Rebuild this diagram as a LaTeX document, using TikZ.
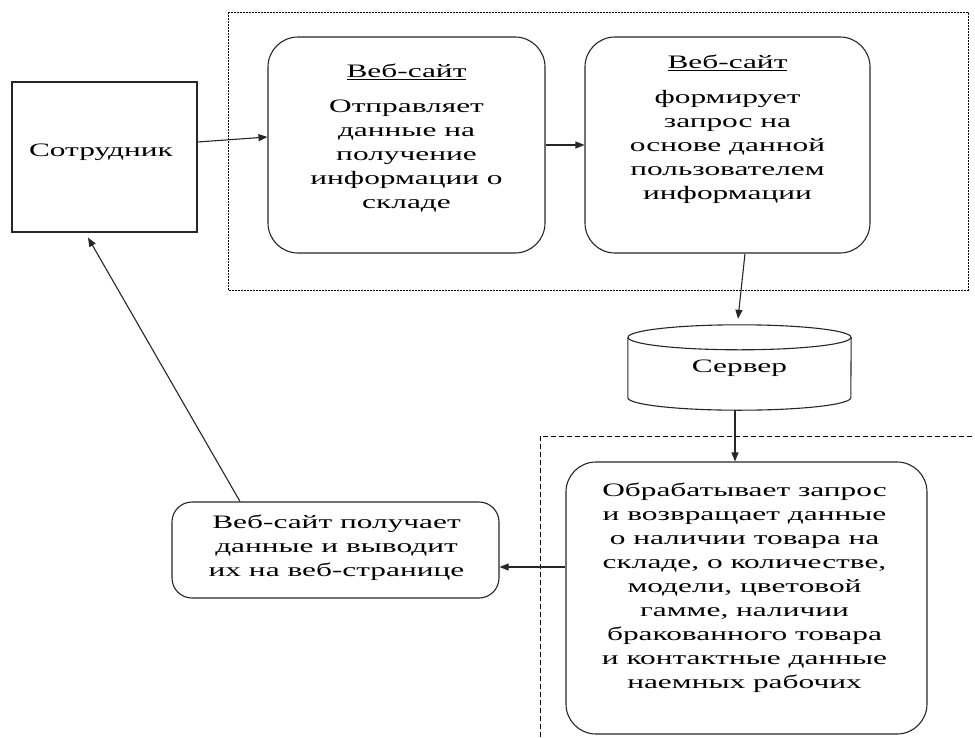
\documentclass[tikz,border=0pt]{standalone}
\usepackage{fontspec}
\usepackage{graphicx}
\setmainfont{Liberation Serif}
\usetikzlibrary{arrows.meta,calc}
\newcommand\widetext[1]{\scalebox{1.65}[1]{\begin{tabular}{@{}c@{}}#1\end{tabular}}}
\begin{document}
\begin{tikzpicture}[x=1pt,y=-1pt,
  font=\fontsize{19}{24}\selectfont,
  ln/.style={line width=1.1pt, draw=black!85},
  arr/.style={ln, -{Triangle[length=9pt,width=7pt]}},
  rbox/.style={ln, rectangle, rounded corners=30pt, inner sep=0pt},
  txt/.style={align=center, inner sep=0pt}]
\useasboundingbox (0,0) rectangle (975,737);
% dashed groups
\draw[line width=0.9pt, dash pattern=on 2pt off 1pt] (228,12) rectangle (968,290);
\draw[line width=0.9pt, dash pattern=on 5pt off 3pt] (540,737) -- (540,436) -- (975,436);
% nodes
\node[ln, draw, rectangle, minimum width=185pt, minimum height=150pt] (emp) at (104.5,157) {};
\node[txt] (tEmp) at (101,152) {\widetext{Сотрудник}};
\node[rbox, draw, minimum width=277pt, minimum height=216pt] (b1) at (406.5,145) {};
\node[txt] (t1) at (406.5,138) {\widetext{\underline{Веб-сайт}\\[11pt]Отправляет\\данные на\\получение\\информации о\\складе}};
\node[rbox, draw, minimum width=285pt, minimum height=216pt] (b2) at (727.5,145) {};
\node[txt] (t2) at (727.5,129) {\widetext{\underline{Веб-сайт}\\[11pt]формирует\\запрос на\\основе данной\\пользователем\\информации}};
\node[rectangle, inner sep=0pt, minimum width=223pt, minimum height=85pt] (srv) at (739.5,367.5) {};
\draw[ln] ([yshift=-12.5pt]srv.north) ellipse [x radius=111.5pt, y radius=12.5pt];
\draw[ln] ([yshift=-12.5pt]srv.north west) -- ([yshift=12.5pt]srv.south west)
   arc[start angle=180, end angle=360, x radius=111.5pt, y radius=12.5pt]
   -- ([yshift=-12.5pt]srv.north east);
\node[txt] (tSrv) at (739.5,368) {\widetext{Сервер}};
\node[rbox, draw, minimum width=361pt, minimum height=272pt] (b3) at (746.5,598) {};
\node[txt] (t3) at (744.5,587.5) {\widetext{Обрабатывает запрос\\и возвращает данные\\о наличии товара на\\складе, о количестве,\\модели, цветовой\\гамме, наличии\\бракованного товара\\и контактные данные\\наемных рабочих}};
\node[rbox, draw, rounded corners=20pt, minimum width=327pt, minimum height=96pt] (b4) at (335.5,550) {};
\node[txt] (t4) at (336.5,548) {\widetext{Веб-сайт получает\\данные и выводит\\их на веб-странице}};
% connectors
\draw[arr] ([yshift=15pt]emp.east) -- ([yshift=8pt]b1.west);
\draw[arr] (b1.east) -- (b2.west);
\draw[arr] ([xshift=17.5pt]b2.south) -- ([xshift=-1.5pt,yshift=6pt]srv.north);
\draw[arr] ([xshift=-4.5pt]srv.south) -- ([xshift=-11.5pt]b3.north);
\draw[arr] ([yshift=31pt]b3.west) -- ([yshift=-17pt]b4.east);
\draw[arr] ([xshift=-95.5pt]b4.north) -- ([xshift=-16.5pt,yshift=-5pt]emp.south);
\end{tikzpicture}
\end{document}
